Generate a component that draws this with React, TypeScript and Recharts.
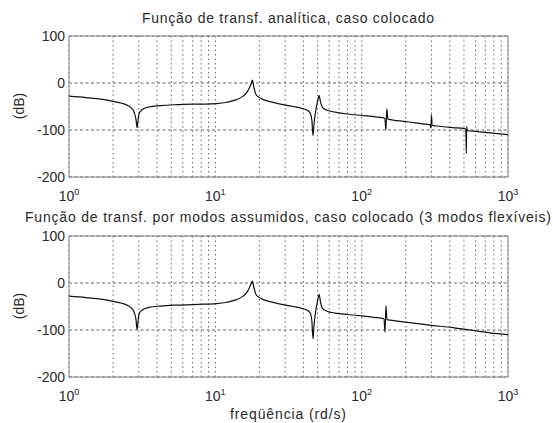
import React from 'react';
import { LineChart, Line, XAxis, YAxis, CartesianGrid, ReferenceArea } from 'recharts';

// Top panel: analytic transfer function (collocated)
const freqAnalytic = [1, 1.3, 1.7, 2, 2.3, 2.55, 2.7, 2.8, 2.87, 2.92, 2.96, 3.02, 3.15, 3.5, 4.2, 5.5, 7, 8.5, 10.2, 12, 13.8, 15.3, 16.4, 17.1, 17.6, 17.9, 18.3, 19, 20.5, 24, 29, 34, 39, 42.5, 44.5, 45.7, 46.5, 47.3, 48.5, 50, 51.2, 52.3, 54, 58, 66, 80, 100, 125, 144, 146.5, 148.5, 151, 175, 210, 260, 294, 297, 300, 303, 340, 420, 505, 515, 519, 522, 526, 600, 750, 1000];
const magAnalytic = [-28, -31, -35, -39, -43, -49, -55, -64, -78, -95, -80, -64, -57, -51, -48, -46, -45, -45, -44, -41, -36, -29, -20, -10, -1, 6, -8, -25, -33, -40, -46, -50, -54, -58, -64, -80, -112, -85, -60, -38, -27, -40, -52, -58, -62, -66, -69, -72, -75, -100, -55, -77, -80, -83, -87, -89, -96, -68, -90, -92, -95, -97, -99, -150, -92, -101, -103, -106, -110];

// Bottom panel: assumed modes (3 flexible modes)
const freqModes = [1, 1.3, 1.7, 2, 2.3, 2.55, 2.7, 2.8, 2.87, 2.92, 2.96, 3.02, 3.15, 3.5, 4.2, 5.5, 7, 8.5, 10.2, 12, 13.8, 15.3, 16.4, 17.1, 17.6, 17.9, 18.3, 19, 20.5, 24, 29, 34, 39, 42.5, 44.5, 45.7, 46.5, 47.3, 48.5, 50, 51.2, 52.3, 54, 58, 66, 80, 100, 122, 142, 144.5, 146.5, 149, 175, 220, 300, 420, 580, 750, 1000];
const magModes = [-28, -31, -35, -39, -43, -49, -55, -64, -78, -99, -82, -65, -58, -52, -49, -47, -46, -45, -44, -41, -36, -29, -20, -10, -1, 4, -8, -25, -33, -40, -46, -50, -54, -58, -64, -82, -119, -88, -60, -37, -24, -40, -54, -60, -64, -67, -70, -73, -76, -105, -48, -78, -81, -85, -90, -95, -101, -106, -110];

const xTicks = [1, 2, 3, 4, 5, 6, 7, 8, 9, 10, 20, 30, 40, 50, 60, 70, 80, 90, 100, 200, 300, 400, 500, 600, 700, 800, 900, 1000];
const xDecades = [1, 10, 100, 1000];
const yTicks = [-200, -100, 0, 100];

const titleTop = 'Função de transf. analítica, caso colocado';
const titleBottom = 'Função de transf. por modos assumidos, caso colocado (3 modos flexíveis)';
const yLabel = '(dB)';
const xLabel = 'freqüência (rd/s)';

const FONT = '"Liberation Sans", Arial, sans-serif';
const TEXT = '#2a2a2a';

const toRows = (f: number[], m: number[]) => f.map((v, i) => ({ f: v, m: m[i] }));

const XTick = (props: any) => {
  const { x, y, payload } = props;
  const v = payload.value;
  if (!xDecades.includes(v)) return null;
  const e = Math.round(Math.log10(v));
  return (
    <text x={x} y={y + 16} textAnchor="middle" fontSize={14} fill={TEXT} fontFamily={FONT}>
      <tspan>10</tspan>
      <tspan dy={-6} fontSize={9}>{e}</tspan>
    </text>
  );
};

function Panel({ rows }: { rows: { f: number; m: number }[] }) {
  return (
    <LineChart width={553} height={205} data={rows} margin={{ top: 36, right: 45, bottom: 4, left: 29 }}>
      <CartesianGrid horizontal={false} vertical strokeDasharray="1.5 3" stroke="#666" />
      <CartesianGrid horizontal vertical={false} strokeDasharray="3 2.5" stroke="#666" />
      <XAxis
        dataKey="f"
        type="number"
        scale="log"
        domain={[1, 1000]}
        ticks={xTicks}
        interval={0}
        tick={<XTick />}
        tickLine={false}
        axisLine={false}
        height={24}
        allowDataOverflow
      />
      <YAxis
        type="number"
        domain={[-200, 100]}
        ticks={yTicks}
        interval={0}
        width={40}
        tickLine={false}
        axisLine={false}
        tickSize={2}
        tickMargin={2}
        tick={{ fontSize: 14, fill: TEXT, fontFamily: FONT }}
      />
      <ReferenceArea x1={1} x2={1000} y1={-200} y2={100} fill="none" stroke="#8a8a8a" strokeWidth={1} ifOverflow="visible" />
      <Line dataKey="m" type="monotone" stroke="#111" strokeWidth={1.2} dot={false} isAnimationActive={false} />
    </LineChart>
  );
}

export default function App() {
  return (
    <div style={{ position: 'fixed', left: 0, top: 0, width: 553, height: 423, background: '#fff', overflow: 'hidden' }}>
      <div style={{ position: 'absolute', left: 0, top: 0 }}>
        <Panel rows={toRows(freqAnalytic, magAnalytic)} />
      </div>
      <div style={{ position: 'absolute', left: 0, top: 200 }}>
        <Panel rows={toRows(freqModes, magModes)} />
      </div>
      <svg width={553} height={423} style={{ position: 'absolute', left: 0, top: 0, pointerEvents: 'none' }}>
        <g fontFamily={FONT} fill={TEXT} fontSize={14}>
          <text x={288} y={23} textAnchor="middle" textLength={292} lengthAdjust="spacing">{titleTop}</text>
          <text x={288} y={222} textAnchor="middle" textLength={526} lengthAdjust="spacing">{titleBottom}</text>
          <text x={19} y={106} textAnchor="middle" dominantBaseline="central" transform="rotate(-90 19 106)">{yLabel}</text>
          <text x={19} y={306} textAnchor="middle" dominantBaseline="central" transform="rotate(-90 19 306)">{yLabel}</text>
          <text x={288} y={419} textAnchor="middle" textLength={116} lengthAdjust="spacing">{xLabel}</text>
        </g>
      </svg>
    </div>
  );
}
